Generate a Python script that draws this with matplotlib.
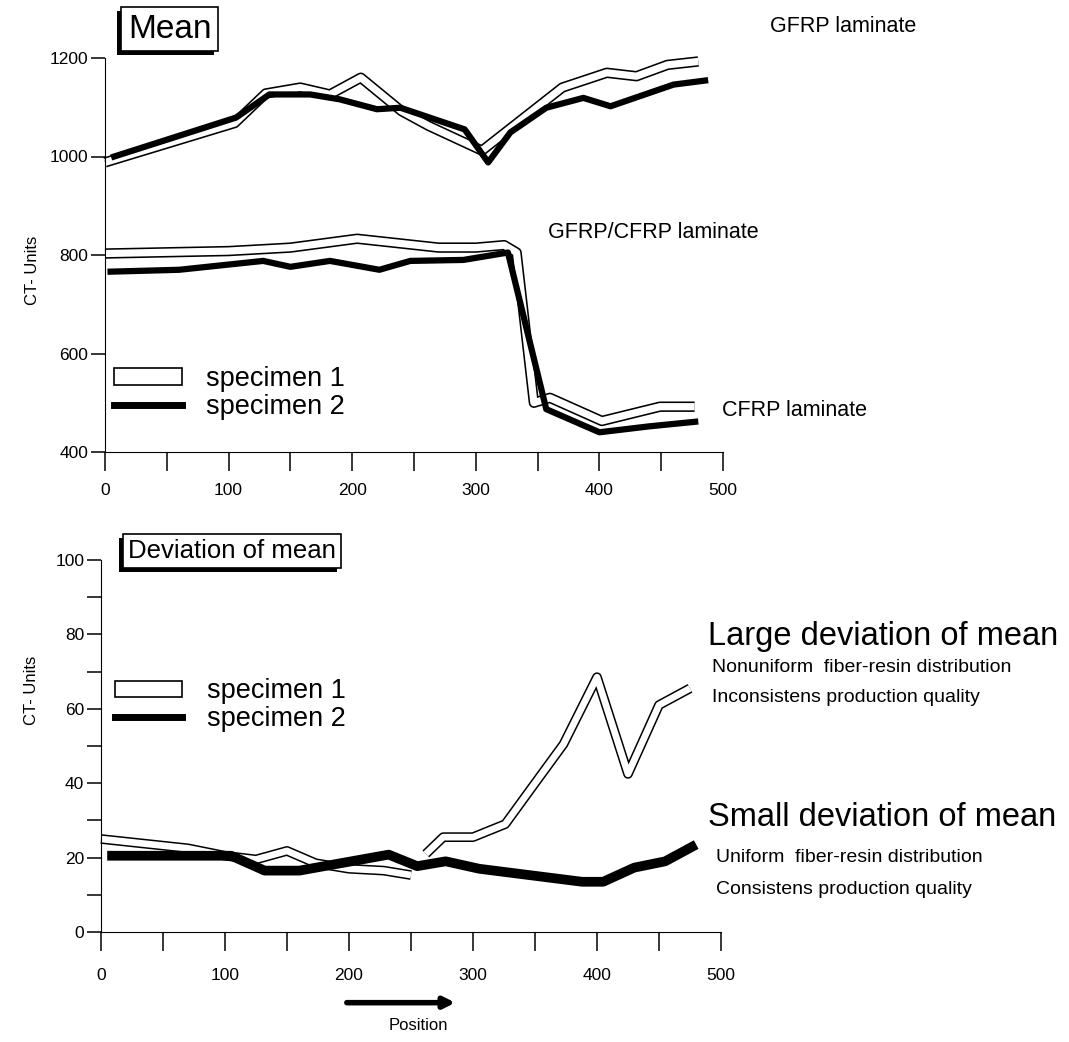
import numpy as np
import matplotlib
matplotlib.rcParams["font.family"] = ["Liberation Sans", "DejaVu Sans"]
import matplotlib.pyplot as plt
from matplotlib.patches import Patch, Rectangle
from matplotlib.lines import Line2D

# --- Mean CT values (top panel) ---
pos_gfrp_s1 = [0, 105, 130, 158, 182, 207, 240, 262, 305, 370, 406, 430, 455, 480]
mean_gfrp_s1 = [988, 1068, 1128, 1140, 1126, 1160, 1092, 1062, 1012, 1140, 1170, 1163, 1186, 1193]
pos_gfrp_s2 = [5, 106, 133, 166, 190, 220, 239, 291, 310, 328, 357, 387, 409, 460, 488]
mean_gfrp_s2 = [998, 1079, 1126, 1126, 1116, 1096, 1099, 1055, 988, 1049, 1099, 1119, 1102, 1146, 1155]

pos_mix_s1 = [0, 100, 150, 204, 270, 300, 323, 333, 347, 360, 402, 449, 477]
mean_mix_s1 = [803, 808, 815, 833, 815, 815, 820, 805, 500, 510, 463, 492, 492]
pos_mix_s2 = [2, 60, 128, 150, 182, 222, 247, 290, 326, 357, 400, 440, 480]
mean_mix_s2 = [766, 770, 788, 776, 788, 770, 788, 790, 805, 487, 440, 452, 462]

# --- Deviation of mean (bottom panel) ---
pos_dev_s1a = [0, 70, 100, 125, 150, 173, 200, 228, 250]
dev_s1a = [25, 22.5, 20.5, 19.5, 21.8, 18.5, 17, 16.5, 15.3]
pos_dev_s1b = [262, 276, 300, 326, 350, 373, 400, 425, 450, 475]
dev_s1b = [21, 25.5, 25.5, 29, 40, 50.5, 68.5, 42.5, 61, 65.5]
pos_dev_s2 = [5, 60, 105, 132, 160, 232, 255, 278, 305, 388, 405, 430, 455, 480]
dev_s2 = [20.5, 20.5, 20.5, 16.5, 16.5, 20.8, 17.7, 19, 17, 13.5, 13.5, 17.3, 19, 23.5]

W, H = 1069, 1042


def hollow(ax, x, y, outer=7.5, inner=5.2):
    ax.plot(x, y, color="black", lw=outer, solid_joinstyle="round",
            solid_capstyle="butt", clip_on=False, zorder=2)
    ax.plot(x, y, color="white", lw=inner, solid_joinstyle="round",
            solid_capstyle="butt", clip_on=False, zorder=2.1)


def solid(ax, x, y, lw=4.5):
    ax.plot(x, y, color="black", lw=lw, solid_joinstyle="round",
            solid_capstyle="butt", clip_on=False, zorder=3)


def ftext(x, y, s, size, **kw):
    fig.text(x / W, 1 - y / H, s, fontsize=size, va="center", **kw)


def boxed(x, y, s, size):
    t = fig.text(x / W, 1 - y / H, s, fontsize=size, va="center", zorder=5,
                 bbox=dict(boxstyle="square,pad=0.2", fc="white", ec="black", lw=1.2))
    fig.canvas.draw()
    bb = t.get_bbox_patch().get_window_extent()
    # drop shadow to the lower left
    fig.add_artist(Rectangle(((bb.x0 - 4) / W, (bb.y0 - 4) / H), bb.width / W, bb.height / H,
                             transform=fig.transFigure, fc="black", ec="none", zorder=4))


def style_axis(ax):
    ax.spines["top"].set_visible(False)
    ax.spines["right"].set_visible(False)
    ax.set_xlim(0, 500)
    ax.set_xticks(np.arange(0, 501, 100))
    ax.set_xticks(np.arange(0, 501, 50), minor=True)
    ax.tick_params(axis="x", which="both", direction="out", length=14, width=1.1,
                   pad=8, labelsize=12.5)
    ax.tick_params(axis="y", which="both", direction="out", length=10, width=1.1,
                   pad=2, labelsize=12.5)
    ax.set_ylabel("CT- Units", fontsize=12)


fig = plt.figure(figsize=(W / 100, H / 100), dpi=100)

# top panel
ax1 = fig.add_axes([105 / W, 1 - 452 / H, 618 / W, (452 - 58) / H])
hollow(ax1, pos_gfrp_s1, mean_gfrp_s1)
solid(ax1, pos_gfrp_s2, mean_gfrp_s2)
hollow(ax1, pos_mix_s1, mean_mix_s1)
solid(ax1, pos_mix_s2, mean_mix_s2)
style_axis(ax1)
ax1.set_ylim(400, 1200)
ax1.set_yticks(np.arange(400, 1201, 200))
ax1.yaxis.set_label_coords(-0.105, 0.46)

handles = [Patch(facecolor="white", edgecolor="black", lw=1.2),
           Line2D([], [], color="black", lw=5)]
leg_kw = dict(frameon=False, fontsize=19.5, handlelength=2.5, handleheight=0.55,
              handletextpad=0.9, labelspacing=0.05, borderpad=0, borderaxespad=0,
              loc="center left")
ax1.legend(handles, ["specimen 1", "specimen 2"], bbox_to_anchor=(0.015, 0.15), **leg_kw)

# bottom panel
ax2 = fig.add_axes([101 / W, 1 - 932 / H, 620 / W, (932 - 560) / H])
hollow(ax2, pos_dev_s1a, dev_s1a, outer=7, inner=4.8)
hollow(ax2, pos_dev_s1b, dev_s1b, outer=7, inner=4.8)
solid(ax2, pos_dev_s2, dev_s2, lw=7)
style_axis(ax2)
ax2.tick_params(axis="x", pad=12)
ax2.set_ylim(0, 100)
ax2.set_yticks(np.arange(0, 101, 20))
ax2.set_yticks(np.arange(0, 101, 10), minor=True)
ax2.yaxis.set_label_coords(-0.1, 0.65)
ax2.legend(handles, ["specimen 1", "specimen 2"], bbox_to_anchor=(0.022, 0.61), **leg_kw)

ax2.annotate("", xy=(288, -0.19), xytext=(196, -0.19),
             xycoords=("data", "axes fraction"), annotation_clip=False,
             arrowprops=dict(arrowstyle="-|>", lw=4, color="black", mutation_scale=16))
ax2.text(256, -0.25, "Position", transform=ax2.get_xaxis_transform(),
         ha="center", va="center", fontsize=12)

# panel titles
boxed(128, 29, "Mean", 24)
boxed(128, 551, "Deviation of mean", 18.5)

# annotations
ftext(770, 27, "GFRP laminate", 15.5)
ftext(548, 232, "GFRP/CFRP laminate", 15.5)
ftext(722, 410, "CFRP laminate", 15.5)
ftext(708, 636, "Large deviation of mean", 23.5)
ftext(712, 668, "Nonuniform  fiber-resin distribution", 14)
ftext(712, 698, "Inconsistens production quality", 14)
ftext(708, 818, "Small deviation of mean", 23.5)
ftext(716, 858, "Uniform  fiber-resin distribution", 14)
ftext(716, 889, "Consistens production quality", 14)

plt.savefig("out.png", dpi=100)
